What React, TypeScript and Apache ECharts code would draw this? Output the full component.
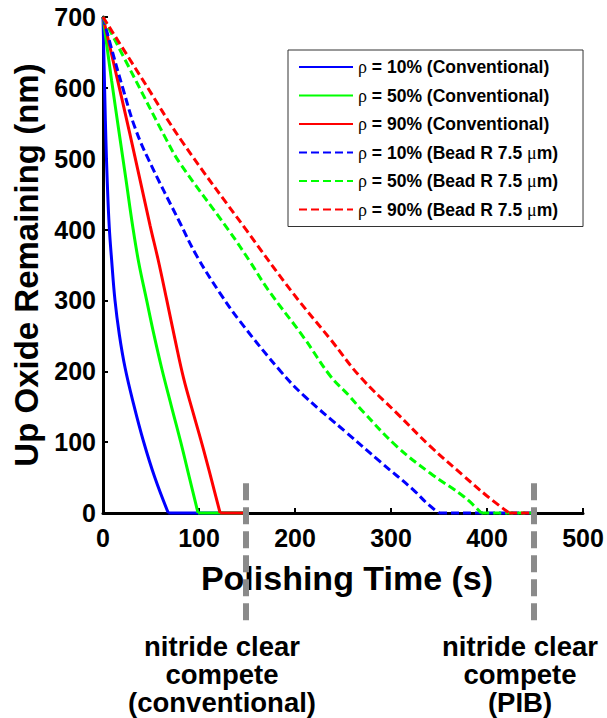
import React, { useEffect, useRef } from "react";
import * as echarts from "echarts";

// ---- data ----
const seriesNames = [
  "ρ = 10% (Conventional)",
  "ρ = 50% (Conventional)",
  "ρ = 90% (Conventional)",
  "ρ = 10% (Bead R 7.5 μm)",
  "ρ = 50% (Bead R 7.5 μm)",
  "ρ = 90% (Bead R 7.5 μm)",
];

const conv10T = [0, 1, 2, 3, 4.5, 6.5, 9, 12.5, 17, 23, 32, 42, 54, 68, 150];
const conv10V = [700, 640, 580, 527, 465, 404, 357, 300, 252, 205, 153, 102, 50, 0, 0];

const conv50T = [0, 9, 17, 24, 31, 37, 45.5, 53, 61, 71, 81, 90, 99, 150];
const conv50V = [700, 610, 535, 470, 404, 355, 300, 252, 205, 152, 100, 50, 0, 0];

const conv90T = [0, 28, 49, 57.5, 66.5, 75, 84, 94, 104, 113, 122, 150];
const conv90V = [700, 535, 406, 357, 300, 245, 190, 141, 93, 47, 0, 0];

const bead10T = [0, 10, 21, 33, 47, 80, 98, 122, 143, 185, 209, 254, 289, 323, 338, 350, 450];
const bead10V = [700, 650, 598, 545, 500, 410, 362, 310, 270, 200, 166, 113, 72, 33, 13, 0, 0];

const bead50T = [0, 32, 66, 80, 132, 153, 172, 209, 237, 256, 271, 306, 341, 376, 394, 450];
const bead50V = [700, 616, 527, 494, 397, 355, 315, 248, 193, 166, 143, 94, 56, 23, 0, 0];

const bead90T = [0, 42, 82, 150, 198, 237, 268, 306, 341, 376, 400, 423, 450];
const bead90V = [700, 610, 525, 398, 310, 245, 192, 141, 94, 52, 24, 0, 0];

const seriesColors = ["#0000ff", "#00ff00", "#ff0000", "#0000ff", "#00ff00", "#ff0000"];
const seriesDashed = [false, false, false, true, true, true];

const xTicks = [0, 100, 200, 300, 400, 500];
const yTicks = [0, 100, 200, 300, 400, 500, 600, 700];

const clearTimes = [150, 450];
const clearLabels = [
  "nitride clear\ncompete\n(conventional)",
  "nitride clear\ncompete\n(PIB)",
];

const xTitle = "Polishing Time (s)";
const yTitle = "Up Oxide Remaining (nm)";

const zip = (t: number[], v: number[]) => t.map((x, i) => [x, v[i]]);
const allT = [conv10T, conv50T, conv90T, bead10T, bead50T, bead90T];
const allV = [conv10V, conv50V, conv90V, bead10V, bead50V, bead90V];

export default function App() {
  const ref = useRef<HTMLDivElement>(null);

  useEffect(() => {
    const chart = echarts.init(ref.current!, null, { renderer: "svg" });
    const font = "'Liberation Sans', Arial, Helvetica, sans-serif";

    const series: any[] = [];
    seriesNames.forEach((name, i) => {
      const pts = zip(allT[i], allV[i]);
      const zeroIdx = allV[i].indexOf(0);
      const lineStyle = {
        color: seriesColors[i],
        width: 3,
        type: seriesDashed[i] ? [8, 4] : "solid",
      };
      // decaying part (smoothed)
      series.push({
        name,
        type: "line",
        data: pts.slice(0, zeroIdx + 1),
        symbol: "none",
        showSymbol: false,
        clip: false,
        smooth: 0.4,
        color: seriesColors[i],
        lineStyle,
        z: 3 + i,
      });
      // cleared part (flat at zero)
      series.push({
        name,
        type: "line",
        data: pts.slice(zeroIdx),
        symbol: "none",
        showSymbol: false,
        clip: false,
        silent: true,
        color: seriesColors[i],
        lineStyle,
        z: 3 + i,
      });
    });

    const option: any = {
      animation: false,
      backgroundColor: "#ffffff",
      grid: { left: 103, top: 17, right: 24, bottom: 205, containLabel: false },
      xAxis: {
        type: "value",
        min: xTicks[0],
        max: xTicks[xTicks.length - 1],
        interval: 100,
        name: xTitle,
        nameLocation: "middle",
        nameGap: 48,
        nameTextStyle: {
          fontFamily: font,
          fontSize: 34,
          fontWeight: "bold",
          color: "#000",
          padding: [0, 0, 0, 8],
        },
        axisLine: { show: true, onZero: false, lineStyle: { color: "#000", width: 3 } },
        axisTick: { show: true, inside: true, length: 5, lineStyle: { color: "#000", width: 2 } },
        axisLabel: { fontFamily: font, fontSize: 25, fontWeight: "bold", color: "#000", margin: 12 },
        splitLine: { show: false },
      },
      yAxis: {
        type: "value",
        min: yTicks[0],
        max: yTicks[yTicks.length - 1],
        interval: 100,
        name: yTitle,
        nameLocation: "middle",
        nameRotate: 90,
        nameGap: 57,
        nameTextStyle: { fontFamily: font, fontSize: 33, fontWeight: "bold", color: "#000" },
        axisLine: { show: true, onZero: false, lineStyle: { color: "#000", width: 3 } },
        axisTick: { show: true, inside: true, length: 5, lineStyle: { color: "#000", width: 2 } },
        axisLabel: { fontFamily: font, fontSize: 25, fontWeight: "bold", color: "#000", margin: 7 },
        splitLine: { show: false },
      },
      legend: {
        orient: "vertical",
        left: 288,
        top: 50,
        itemWidth: 54,
        itemHeight: 14,
        itemGap: 10.5,
        padding: [8, 25, 8, 10],
        borderColor: "#333",
        borderWidth: 1,
        backgroundColor: "#fff",
        data: seriesNames,
        itemStyle: { opacity: 0 },
        formatter: (name: string) => name.replace("ρ", "{g|ρ}").replace("μ", "{g|μ}"),
        textStyle: {
          fontFamily: font,
          fontSize: 17.5,
          fontWeight: "bold",
          color: "#000",
          lineHeight: 18,
          rich: {
            g: { fontFamily: "'Liberation Serif', serif", fontSize: 18, fontWeight: "normal", color: "#000", lineHeight: 18 },
          },
        },
      },
      series,
    };

    chart.setOption(option);

    const graphics: any[] = [];
    clearTimes.forEach((t, i) => {
      const top = chart.convertToPixel({ gridIndex: 0 }, [t, 42]) as number[];
      const axisPt = chart.convertToPixel({ gridIndex: 0 }, [t, 0]) as number[];
      graphics.push({
        type: "line",
        z: 100,
        shape: { x1: top[0] - 1, y1: top[1], x2: top[0] - 1, y2: axisPt[1] + 108 },
        style: { stroke: "#8a8a8a", lineWidth: 6, lineDash: [17, 7] },
      });
      graphics.push({
        type: "text",
        z: 100,
        x: top[0] + (i === 0 ? -25 : -15),
        y: axisPt[1] + 161,
        style: {
          text: clearLabels[i],
          fontFamily: font,
          fontSize: 27.5,
          fontWeight: "bold",
          lineHeight: 28,
          fill: "#000",
          align: "center",
          verticalAlign: "middle",
        },
      });
    });
    chart.setOption({ graphic: graphics });

    return () => chart.dispose();
  }, []);

  return (
    <div
      ref={ref}
      style={{ position: "fixed", left: 0, top: 0, width: 607, height: 718, background: "#fff" }}
    />
  );
}
